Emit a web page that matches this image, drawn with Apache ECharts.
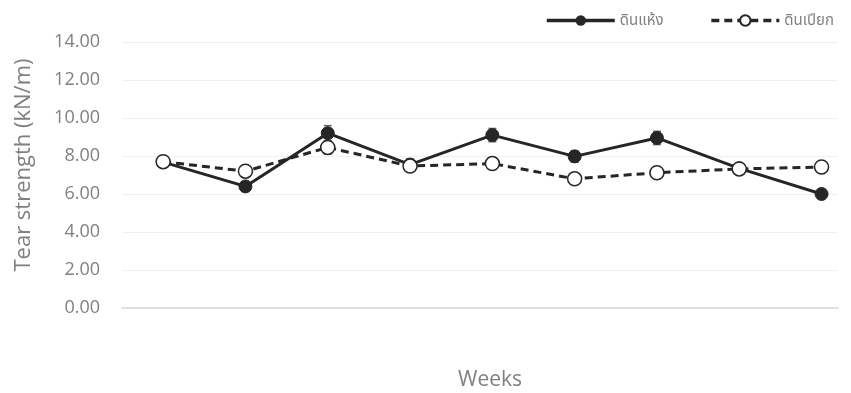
<!DOCTYPE html>
<html>
<head>
<meta charset="utf-8">
<script src="https://cdn.jsdelivr.net/npm/echarts@6/dist/echarts.min.js"></script>
<style>
  html, body { margin: 0; padding: 0; background: #ffffff; }
  #chart { width: 851px; height: 393px; }
</style>
</head>
<body>
<div id="chart"></div>
<script>
// Tear strength per week for dry and wet soil burial
const weeks = [1, 2, 3, 4, 5, 6, 7, 8, 9];
const drySoil = [7.68, 6.40, 9.20, 7.55, 9.10, 7.98, 8.95, 7.35, 6.00];
const dryErr  = [0.15, 0.20, 0.40, 0.30, 0.35, 0.30, 0.35, 0.25, 0.15];
const wetSoil = [7.70, 7.20, 8.45, 7.47, 7.60, 6.80, 7.12, 7.32, 7.42];
const wetErr  = [0.15, 0.20, 0.35, 0.20, 0.30, 0.20, 0.20, 0.25, 0.20];
const yTicks = { min: 0, max: 14, interval: 2 };
const dryName = 'ดินแห้ง';
const wetName = 'ดินเปียก';

const ink = '#262626';
const textGray = '#808080';
const font = "'Open Sans', 'Noto Sans', 'Noto Sans Thai', 'DejaVu Sans', sans-serif";

function errorSeries(values, errs) {
  return {
    type: 'custom',
    silent: true,
    z: 1,
    data: weeks.map((w, i) => [w, values[i] - errs[i], values[i] + errs[i]]),
    renderItem: function (params, api) {
      const lo = api.coord([api.value(0), api.value(1)]);
      const hi = api.coord([api.value(0), api.value(2)]);
      const cap = 4;
      const style = { stroke: '#6b6b6b', lineWidth: 1.5 };
      return {
        type: 'group',
        children: [
          { type: 'line', shape: { x1: lo[0], y1: lo[1], x2: hi[0], y2: hi[1] }, style: style },
          { type: 'line', shape: { x1: hi[0] - cap, y1: hi[1], x2: hi[0] + cap, y2: hi[1] }, style: style },
          { type: 'line', shape: { x1: lo[0] - cap, y1: lo[1], x2: lo[0] + cap, y2: lo[1] }, style: style }
        ]
      };
    }
  };
}

const chart = echarts.init(document.getElementById('chart'), null, { renderer: 'canvas' });
chart.setOption({
  animation: false,
  backgroundColor: '#ffffff',
  grid: { left: 122, right: 13, top: 42, bottom: 85, containLabel: false, outerBoundsMode: 'none' },
  legend: {
    top: 8,
    right: 12,
    itemWidth: 68,
    itemHeight: 13,
    itemGap: 46,
    lineStyle: { width: 3.5 },
    textStyle: { color: textGray, fontSize: 15, fontFamily: font },
    data: [dryName, wetName]
  },
  xAxis: {
    type: 'value',
    min: 0.5,
    max: 9.2,
    name: 'Weeks',
    nameLocation: 'middle',
    nameGap: 62,
    nameTextStyle: { color: textGray, fontSize: 21, fontFamily: font, padding: [0, 0, 0, 20] },
    axisLine: { show: true, onZero: true, lineStyle: { color: '#d9d9d9', width: 1.5 } },
    axisTick: { show: false },
    axisLabel: { show: false },
    splitLine: { show: false }
  },
  yAxis: {
    type: 'value',
    min: yTicks.min,
    max: yTicks.max,
    interval: yTicks.interval,
    name: 'Tear strength (kN/m)',
    nameLocation: 'middle',
    nameGap: 87,
    nameRotate: 90,
    nameTextStyle: { color: textGray, fontSize: 22, fontFamily: font, padding: [0, 0, 0, 20] },
    axisLine: { show: false },
    axisTick: { show: false },
    axisLabel: {
      color: textGray,
      fontSize: 18,
      fontFamily: font,
      margin: 22,
      formatter: v => v.toFixed(2)
    },
    splitLine: { show: true, lineStyle: { color: '#f0f0f0', width: 1 } }
  },
  series: [
    errorSeries(drySoil, dryErr),
    errorSeries(wetSoil, wetErr),
    {
      name: dryName,
      type: 'line',
      z: 3,
      data: weeks.map((w, i) => [w, drySoil[i]]),
      symbol: 'circle',
      symbolSize: 13,
      itemStyle: { color: ink, borderColor: ink },
      lineStyle: { color: ink, width: 3 }
    },
    {
      name: wetName,
      type: 'line',
      z: 4,
      data: weeks.map((w, i) => [w, wetSoil[i]]),
      symbol: 'circle',
      symbolSize: 14,
      itemStyle: { color: '#ffffff', borderColor: ink, borderWidth: 1.5 },
      lineStyle: { color: ink, width: 3, type: [8, 5] }
    }
  ]
});
</script>
</body>
</html>
